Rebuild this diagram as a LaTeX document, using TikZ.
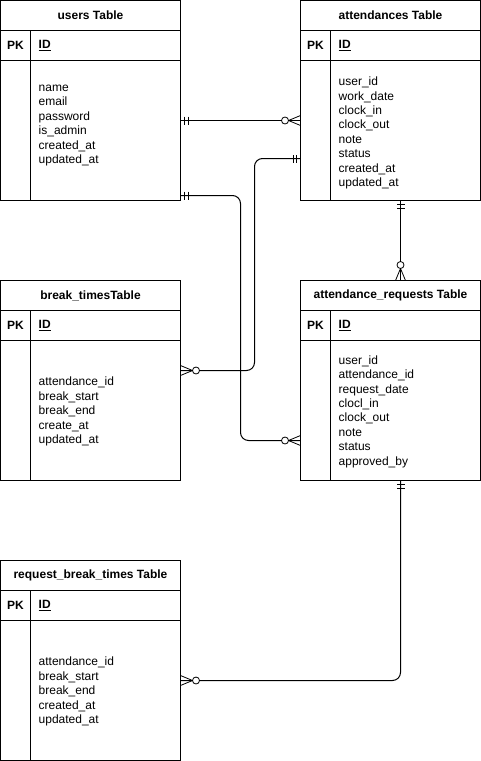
\documentclass[tikz,border=0pt]{standalone}
\usepackage{fontspec}
\setmainfont{Liberation Sans}
\usetikzlibrary{positioning}
\tikzset{
tbl/.style={draw, line width=1pt, minimum width=180pt, minimum height=200pt, inner sep=0pt, outer sep=0pt}, % the outer box of a table
ttl/.style={font=\fontsize{12}{14.4}\selectfont\bfseries, inner sep=0pt}, % table title and key column
fld/.style={inner sep=0pt, anchor=west, align=left}, % list of the fields
link/.style={line width=1pt, rounded corners=8pt}, % relation lines
mandone/.pic={\draw[line width=1pt] (4,-4) -- (4,4) (7.5,-4) -- (7.5,4);}, % one and only one
zeromany/.pic={\draw[line width=0.8pt] (0,-5) -- (12,0) -- (0,5);
               \draw[line width=0.8pt, fill=white] (15.5,0) circle (3.5);}, % zero or many
}
\begin{document}
\begin{tikzpicture}[x=1pt, y=-1pt, font=\fontsize{12}{14.4}\selectfont, node distance=80pt and 120pt]
    \useasboundingbox (-0.5,-0.5) rectangle (480.5,760.5);

    \node[tbl] (users) at (90,100) {};
    \node[tbl, right=of users] (att) {};
    \node[tbl, below=of users] (brk) {};
    \node[tbl, below=of att] (req) {};
    \node[tbl, below=of brk] (rbt) {};

    % rows and key column of every table
    \foreach \t in {users,att,brk,req,rbt}{
        \draw[line width=1pt] ([yshift=-30pt]\t.north west) -- ([yshift=-30pt]\t.north east)
                              ([yshift=-60pt]\t.north west) -- ([yshift=-60pt]\t.north east)
                              ([xshift=30pt,yshift=-30pt]\t.north west) -- ([xshift=30pt]\t.south west);
        \node[ttl] (\t-pk) at ([xshift=15pt,yshift=-45pt]\t.north west) {PK};
        \node[ttl, anchor=west] (\t-id) at ([xshift=38pt,yshift=-45pt]\t.north west) {\underline{ID}};
    }

    \node[ttl] (users-t) at ([yshift=-15pt]users.north) {users Table};
    \node[ttl] (att-t) at ([yshift=-15pt]att.north) {attendances Table};
    \node[ttl] (brk-t) at ([yshift=-15pt]brk.north) {break\_timesTable};
    \node[ttl] (req-t) at ([yshift=-15pt]req.north) {attendance\_requests Table};
    \node[ttl] (rbt-t) at ([yshift=-15pt]rbt.north) {request\_break\_times Table};

    \node[fld] (users-f) at ([xshift=38pt,yshift=-125pt]users.north west)
        {name\\email\\password\\is\_admin\\created\_at\\updated\_at};
    \node[fld] (att-f) at ([xshift=38pt,yshift=-132.5pt]att.north west)
        {user\_id\\work\_date\\clock\_in\\clock\_out\\note\\status\\created\_at\\updated\_at};
    \node[fld] (brk-f) at ([xshift=38pt,yshift=-131pt]brk.north west)
        {attendance\_id\\break\_start\\break\_end\\create\_at\\updated\_at};
    \node[fld] (req-f) at ([xshift=38pt,yshift=-131pt]req.north west)
        {user\_id\\attendance\_id\\request\_date\\clocl\_in\\clock\_out\\note\\status\\approved\_by};
    \node[fld] (rbt-f) at ([xshift=38pt,yshift=-131pt]rbt.north west)
        {attendance\_id\\break\_start\\break\_end\\created\_at\\updated\_at};

    \draw[link] ([yshift=-20pt]users.east) -- ([yshift=-20pt]att.west);
    \draw[link] ([yshift=-58pt]att.west) -| ([xshift=74pt,yshift=10pt]brk.east) -- ([yshift=10pt]brk.east);
    \draw[link] ([yshift=-95pt]users.east) -| ([xshift=-60pt,yshift=-60pt]req.west) -- ([yshift=-60pt]req.west);
    \draw[link] ([xshift=10pt]att.south) -- ([xshift=10pt]req.north);
    \draw[link] ([xshift=10pt]req.south) |- ([yshift=-20pt]rbt.east);

    % ends of the relations
    \pic at ([yshift=-20pt]users.east) {mandone};
    \pic[rotate=180] at ([yshift=-20pt]att.west) {zeromany};
    \pic[rotate=180] at ([yshift=-58pt]att.west) {mandone};
    \pic at ([yshift=10pt]brk.east) {zeromany};
    \pic at ([yshift=-95pt]users.east) {mandone};
    \pic[rotate=180] at ([yshift=-60pt]req.west) {zeromany};
    \pic[rotate=-90] at ([xshift=10pt]att.south) {mandone};
    \pic[rotate=90] at ([xshift=10pt]req.north) {zeromany};
    \pic[rotate=-90] at ([xshift=10pt]req.south) {mandone};
    \pic at ([yshift=-20pt]rbt.east) {zeromany};
\end{tikzpicture}
\end{document}
